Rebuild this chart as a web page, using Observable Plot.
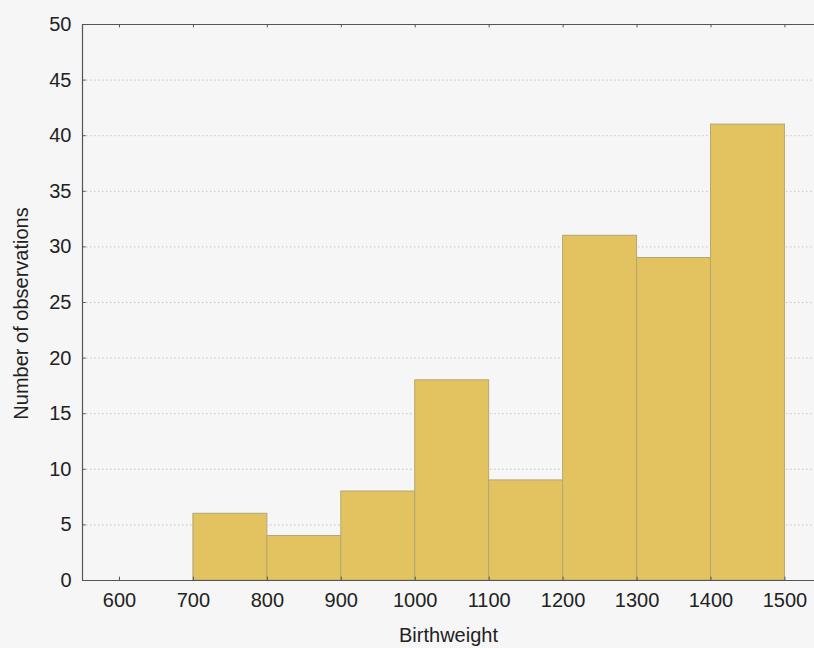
<!DOCTYPE html>
<html>
<head>
<meta charset="utf-8">
<script src="https://cdn.jsdelivr.net/npm/d3@7"></script>
<script src="https://cdn.jsdelivr.net/npm/@observablehq/plot@0.6"></script>
<style>
  html, body { margin: 0; padding: 0; background: #f6f6f6; }
  #chart svg { display: block; }
</style>
</head>
<body>
<div id="chart"></div>
<script>
// Histogram of birthweight: bin edges and counts
const binStart = [700, 800, 900, 1000, 1100, 1200, 1300, 1400];
const binEnd   = [800, 900, 1000, 1100, 1200, 1300, 1400, 1500];
const counts   = [6, 4, 8, 18, 9, 31, 29, 41];

const xTicks = [600, 700, 800, 900, 1000, 1100, 1200, 1300, 1400, 1500];
const yTicks = [0, 5, 10, 15, 20, 25, 30, 35, 40, 45, 50];
const gridTicks = [5, 10, 15, 20, 25, 30, 35, 40, 45];

const bins = binStart.map((s, i) => ({x1: s, x2: binEnd[i], y: counts[i]}));

const axisColor = "#555";
const textColor = "#222";
const plain = d => String(d);

const chart = Plot.plot({
  width: 814,
  height: 648,
  marginLeft: 82,
  marginTop: 24,
  marginBottom: 68,
  marginRight: 0,
  style: {background: "#f6f6f6", fontFamily: "'Liberation Sans', Arial, sans-serif", fontSize: "20px", color: textColor},
  x: {domain: [550, 1540]},
  y: {domain: [0, 50]},
  marks: [
    // dotted horizontal grid
    Plot.ruleY(gridTicks, {stroke: "#c4c4c4", strokeDasharray: "1.5,2.5", strokeWidth: 1}),
    // bars
    Plot.rect(bins, {x1: "x1", x2: "x2", y1: 0, y2: "y", fill: "#e2c35f", stroke: "#b3a775", strokeWidth: 1}),
    // frame lines (left, bottom, top)
    Plot.ruleX([550], {stroke: axisColor, strokeWidth: 1.2}),
    Plot.ruleY([0, 50], {stroke: axisColor, strokeWidth: 1.2}),
    // inward tick marks on bottom, top and left edges
    Plot.ruleX(xTicks, {y1: 0, y2: 0.3, stroke: axisColor}),
    Plot.ruleX(xTicks, {y1: 50, y2: 49.7, stroke: axisColor}),
    Plot.ruleY(yTicks, {x1: 550, x2: 555, stroke: axisColor}),
    // tick labels
    Plot.axisX(xTicks, {tickSize: 0, tickPadding: 12, tickFormat: plain, label: null, fontSize: 20, fill: textColor}),
    Plot.axisY(yTicks, {tickSize: 0, tickPadding: 11, tickFormat: plain, label: null, fontSize: 20, fill: textColor}),
    // axis titles
    Plot.text(["Birthweight"], {frameAnchor: "bottom", dy: 61, fontSize: 20, fill: textColor}),
    Plot.text(["Number of observations"], {frameAnchor: "left", textAnchor: "middle", dx: -61, dy: 11, rotate: -90, fontSize: 20, fill: textColor})
  ]
});

document.getElementById("chart").appendChild(chart);
</script>
</body>
</html>
